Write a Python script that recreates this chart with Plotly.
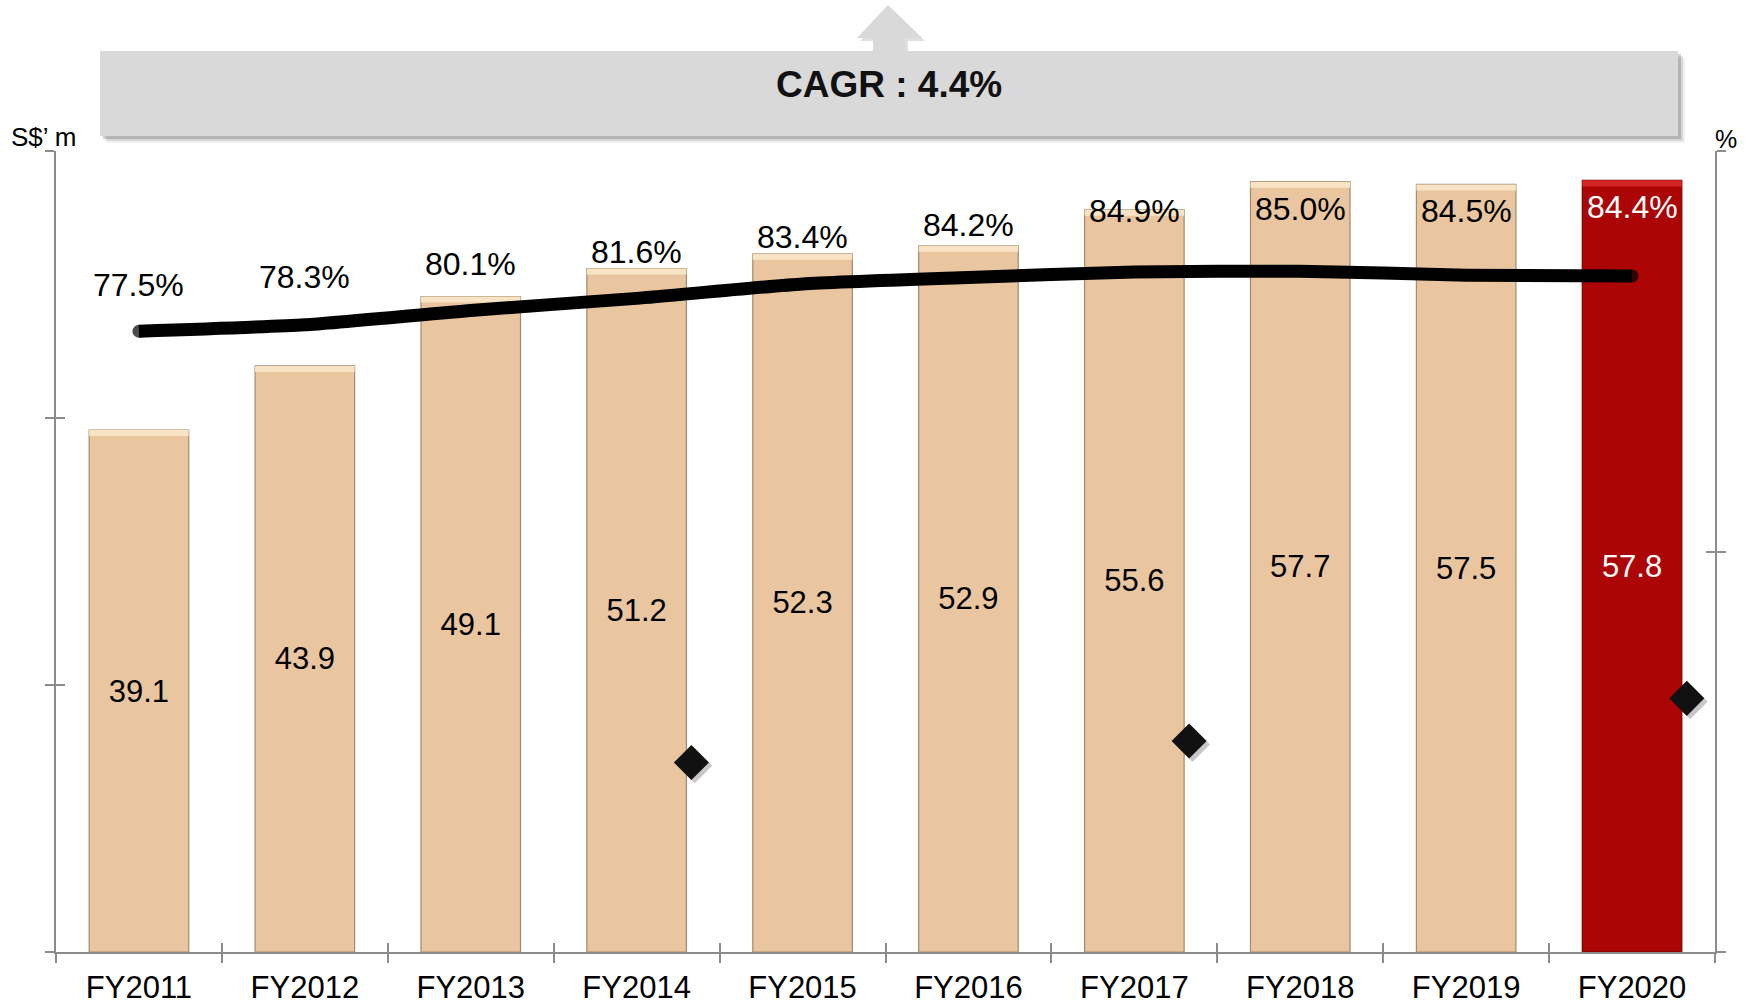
import plotly.graph_objects as go

categories = ["FY2011", "FY2012", "FY2013", "FY2014", "FY2015",
              "FY2016", "FY2017", "FY2018", "FY2019", "FY2020"]
revenue = [39.1, 43.9, 49.1, 51.2, 52.3, 52.9, 55.6, 57.7, 57.5, 57.8]
margin_pct = [77.5, 78.3, 80.1, 81.6, 83.4, 84.2, 84.9, 85.0, 84.5, 84.4]
diamond_cats = ["FY2014", "FY2017", "FY2020"]
diamond_vals = [14.2, 15.8, 19.0]
cagr_text = "CAGR : 4.4%"

# styling
W, H = 1746, 1005
ML, MR, MT, MB = 56, 31, 151, 53
FONT = "Arial, Liberation Sans, Helvetica, sans-serif"
BAR = "#E9C6A0"
BAR_TOP = "#F8E4C4"
RED = "#AB0505"
RED_TOP = "#D42525"
AXIS = "#8C8C8C"
LINE_W = 13
label_shift = [46, 48, 46, 46, 47, 53, 61, 62, 64, 69]

pw = W - ML - MR
ph = H - MT - MB


def px(xp):
    return (xp - ML) / pw


def py(yp):
    return (H - MB - yp) / ph


is_hi = [c == "FY2020" for c in categories]
bar_colors = [RED if h else BAR for h in is_hi]
bar_line = ["#7A0000" if h else "#A38A6E" for h in is_hi]
top_colors = [RED_TOP if h else BAR_TOP for h in is_hi]
text_colors = ["white" if h else "black" for h in is_hi]

fig = go.Figure()

fig.add_trace(go.Bar(
    x=categories, y=revenue, marker=dict(color=bar_colors, line=dict(color=bar_line, width=1.2)),
    text=[f"{v:.1f}" for v in revenue], textposition="inside", insidetextanchor="middle",
    textfont=dict(family=FONT, size=31, color=text_colors), textangle=0,
    hoverinfo="skip", showlegend=False, xaxis="x", yaxis="y"))
# bevel highlight strip on the top of each bar
strip = 0.45
fig.add_trace(go.Bar(
    x=categories, y=[strip] * len(revenue), base=[v - strip for v in revenue],
    marker=dict(color=top_colors, line=dict(width=0)),
    hoverinfo="skip", showlegend=False, xaxis="x", yaxis="y"))

fig.add_trace(go.Scatter(
    x=categories, y=margin_pct, mode="lines+markers",
    line=dict(color="black", width=LINE_W, shape="spline", smoothing=0.5),
    marker=dict(size=[LINE_W] + [0] * (len(categories) - 2) + [LINE_W], color="black",
                line=dict(width=0)),
    hoverinfo="skip", showlegend=False, xaxis="x", yaxis="y2"))

idx = {c: i for i, c in enumerate(categories)}
fig.add_trace(go.Scatter(
    x=[idx[c] + 0.33 + 0.02 for c in diamond_cats], y=[v - 0.25 for v in diamond_vals], mode="markers",
    marker=dict(symbol="diamond", size=27, color="rgba(0,0,0,0.22)", line=dict(width=0)),
    hoverinfo="skip", showlegend=False, xaxis="x2", yaxis="y"))
fig.add_trace(go.Scatter(
    x=[idx[c] + 0.33 for c in diamond_cats], y=diamond_vals, mode="markers",
    marker=dict(symbol="diamond", size=27, color="#111111", line=dict(color="#000", width=0)),
    hoverinfo="skip", showlegend=False, xaxis="x2", yaxis="y"))

# invisible traces for tick overlay axes
fig.add_trace(go.Scatter(x=[None], y=[None], xaxis="x3", yaxis="y3", showlegend=False))
fig.add_trace(go.Scatter(x=[None], y=[None], xaxis="x3", yaxis="y4", showlegend=False))

annotations = []
for i, (c, v) in enumerate(zip(categories, margin_pct)):
    annotations.append(dict(
        x=c, y=v, xref="x", yref="y2", text=f"{v:.1f}%", showarrow=False,
        yshift=label_shift[i], font=dict(family=FONT, size=32, color=text_colors[i])))

annotations.append(dict(x=px(889), y=py(84), xref="paper", yref="paper", text=f"<b>{cagr_text}</b>",
                        xanchor="center", yanchor="middle",
                        showarrow=False, font=dict(family=FONT, size=37, color="#111111")))
annotations.append(dict(x=px(44), y=py(137), xref="paper", yref="paper", text="S$’ m",
                        xanchor="center", yanchor="middle",
                        showarrow=False, font=dict(family=FONT, size=26, color="black")))
annotations.append(dict(x=px(1726), y=py(139), xref="paper", yref="paper", text="%",
                        xanchor="center", yanchor="middle",
                        showarrow=False, font=dict(family=FONT, size=25, color="black")))

shapes = []
# CAGR box shadow + box
for off, op in [(7, 0.06), (5, 0.10), (3, 0.16)]:
    shapes.append(dict(type="rect", xref="paper", yref="paper", layer="above",
                       x0=px(100 + off), x1=px(1678 + off), y0=py(136 + off), y1=py(51 + off),
                       fillcolor=f"rgba(0,0,0,{op})", line=dict(width=0)))
shapes.append(dict(type="rect", xref="paper", yref="paper", layer="above",
                   x0=px(100), x1=px(1678), y0=py(136), y1=py(51),
                   fillcolor="#D9D9D9", line=dict(width=0)))


def arrow_path(dx, dy):
    pts = [(888, 5), (922, 38), (905, 38), (905, 51), (873, 51), (873, 38), (857, 38)]
    return "M " + " L ".join(f"{px(x + dx)},{py(y + dy)}" for x, y in pts) + " Z"


shapes.append(dict(type="path", xref="paper", yref="paper", layer="above", path=arrow_path(3, 3),
                   fillcolor="rgba(0,0,0,0.12)", line=dict(width=0)))
shapes.append(dict(type="path", xref="paper", yref="paper", layer="above", path=arrow_path(0, 0),
                   fillcolor="#D9D9D9", line=dict(width=0)))
shapes.append(dict(type="rect", xref="paper", yref="paper", layer="above",
                   x0=px(870), x1=px(910), y0=py(60), y1=py(51),
                   fillcolor="#D9D9D9", line=dict(width=0)))

fig.update_layout(
    width=W, height=H,
    margin=dict(l=ML, r=MR, t=MT, b=MB, pad=0, autoexpand=False),
    plot_bgcolor="white", paper_bgcolor="white",
    bargap=0.4, barmode="overlay",
    font=dict(family=FONT, color="black"),
    xaxis=dict(type="category", tickson="boundaries", ticks="outside", ticklen=9, tickwidth=2,
               tickcolor=AXIS, showline=True, linecolor=AXIS, linewidth=2, showgrid=False,
               tickfont=dict(family=FONT, size=31, color="black"), ticklabelstandoff=7,
               range=[-0.5, 9.5], zeroline=False, automargin=False),
    xaxis2=dict(overlaying="x", anchor="y", range=[-0.5, 9.5], visible=False, automargin=False),
    xaxis3=dict(overlaying="x", anchor="y", range=[-0.5, 9.5], tickmode="array",
                tickvals=[i - 0.5 for i in range(len(categories) + 1)], ticks="inside", ticklen=9,
                tickwidth=2, tickcolor=AXIS, showticklabels=False, showline=False, showgrid=False,
                zeroline=False, automargin=False),
    yaxis=dict(range=[0, 60], dtick=20, ticks="outside", ticklen=9, tickwidth=2, tickcolor=AXIS,
               showline=True, linecolor=AXIS, linewidth=2, showgrid=False, zeroline=False,
               showticklabels=False, automargin=False),
    yaxis2=dict(range=[0, 100], dtick=50, overlaying="y", side="right", ticks="outside", ticklen=9,
                tickwidth=2, tickcolor=AXIS, showline=True, linecolor=AXIS, linewidth=2,
                showgrid=False, zeroline=False, showticklabels=False, automargin=False),
    yaxis3=dict(range=[0, 60], dtick=20, overlaying="y", side="left", anchor="x3", ticks="inside",
                ticklen=9, tickwidth=2, tickcolor=AXIS, showline=False, showgrid=False,
                zeroline=False, showticklabels=False, automargin=False),
    yaxis4=dict(range=[0, 100], dtick=50, overlaying="y", side="right", anchor="x3", ticks="inside",
                ticklen=9, tickwidth=2, tickcolor=AXIS, showline=False, showgrid=False,
                zeroline=False, showticklabels=False, automargin=False),
    annotations=annotations,
    shapes=shapes,
)

fig.write_html("out.html")
